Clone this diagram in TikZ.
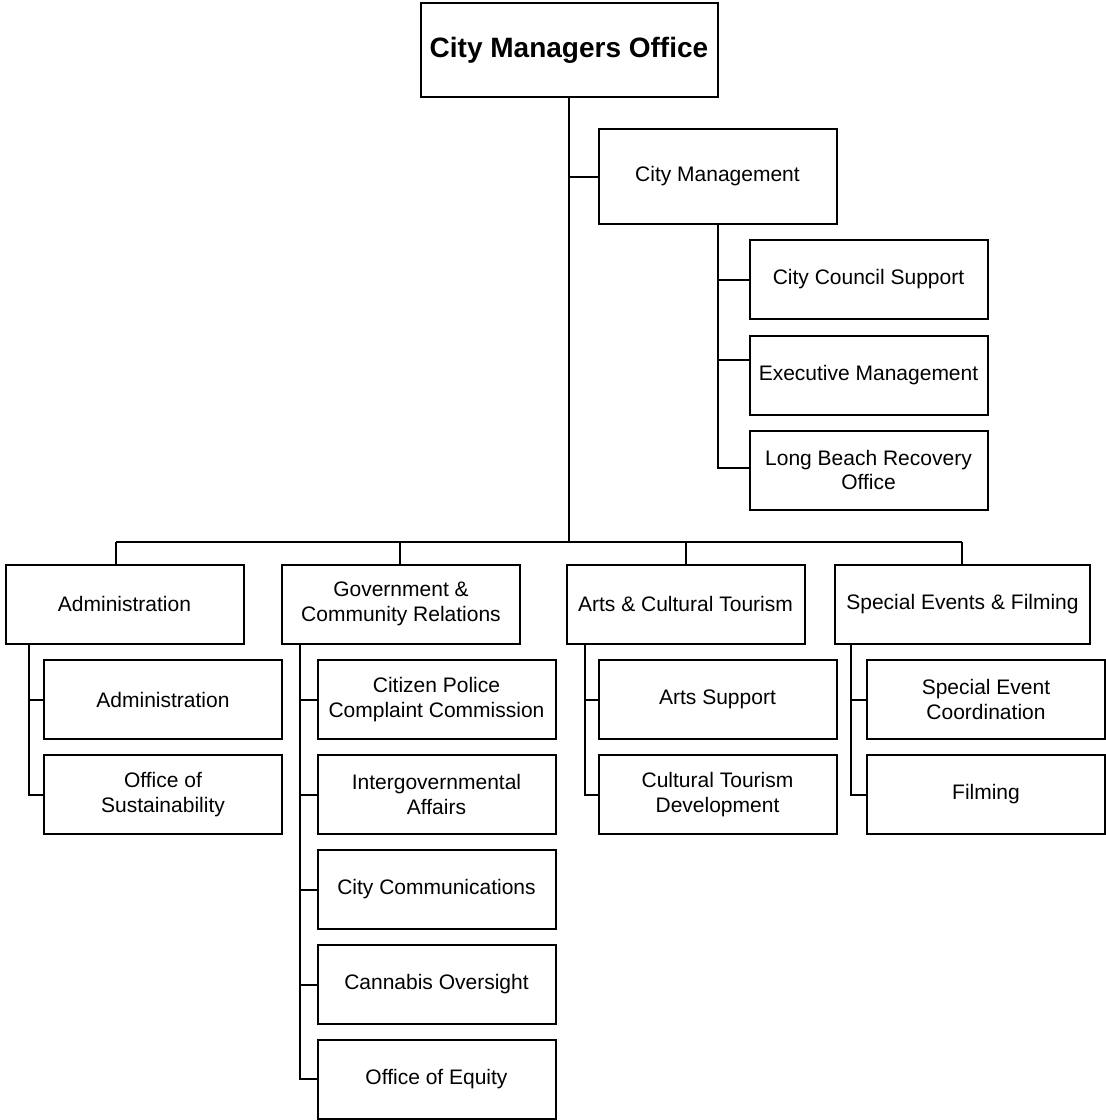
\documentclass[tikz,border=0pt]{standalone}
\usepackage{fontspec}
\setmainfont{Liberation Sans}
\begin{document}
\begin{tikzpicture}[x=1pt,y=-1pt]
        \tikzstyle{box}=[draw,line width=2pt,minimum width=238pt,minimum height=79pt,inner sep=2pt,align=center,font=\fontsize{21}{24.5}\selectfont]
        \tikzstyle{link}=[line width=2pt]
        \useasboundingbox (0,0) rectangle (1106,1120);
        % top of the chart
        \node[box,minimum width=297pt,minimum height=94pt,font=\bfseries\fontsize{28}{32}\selectfont] (cmo) at (569,50) {City Managers Office};
        \node[box,minimum height=95pt] (cm) at (717.5,176.5) {City Management};
        \node[box] (ccs) at (868.5,279.5) {City Council Support};
        \node[box] (exm) at (868.5,375) {Executive Management};
        \node[box] (lbr) at (868.5,470) {Long Beach Recovery\\Office};
        % second level
        \node[box] (adm) at (124.5,604) {Administration};
        \node[box] (gcr) at (401,604) {Government \&\\Community Relations};
        \node[box] (act) at (685.5,604) {Arts \& Cultural Tourism};
        \node[box,minimum width=255pt] (sef) at (962.5,604) {Special Events \& Filming};
        % third level
        \node[box] (adm1) at (163,699.5) {Administration};
        \node[box] (adm2) at (163,794.5) {Office of\\Sustainability};
        \node[box] (gcr1) at (436.5,699.5) {Citizen Police\\Complaint Commission};
        \node[box] (gcr2) at (436.5,794.5) {Intergovernmental\\Affairs};
        \node[box] (gcr3) at (436.5,889.5) {City Communications};
        \node[box] (gcr4) at (436.5,984.5) {Cannabis Oversight};
        \node[box] (gcr5) at (436.5,1079) {Office of Equity};
        \node[box] (act1) at (717.5,699.5) {Arts Support};
        \node[box] (act2) at (717.5,794.5) {Cultural Tourism\\Development};
        \node[box] (sef1) at (986,699.5) {Special Event\\Coordination};
        \node[box] (sef2) at (986,794.5) {Filming};
        % connectors
        \coordinate (bus) at (569,542);
        \coordinate (b1) at (116,542);
        \coordinate (b2) at (400,542);
        \coordinate (b3) at (686,542);
        \coordinate (b4) at (962,542);
        \draw[link] (cmo.south) -- (bus);
        \draw[link] (cm.west) -- (cm.west -| cmo.south);
        \draw[link] (b1) -- (b4);
        \draw[link] (b1) -- (b1 |- adm.north);
        \draw[link] (b2) -- (b2 |- gcr.north);
        \draw[link] (b3) -- (b3 |- act.north);
        \draw[link] (b4) -- (b4 |- sef.north);
        \draw[link] (cm.south) |- (ccs.west);
        \draw[link] (cm.south) |- ([yshift=15pt]exm.west);
        \draw[link] (cm.south) |- ([yshift=2pt]lbr.west);
        \coordinate (a0) at (29,644);
        \coordinate (g0) at (300,644);
        \coordinate (c0) at (585,644);
        \coordinate (s0) at (851,644);
        \foreach \n in {adm1,adm2} \draw[link] (a0) |- (\n.west);
        \foreach \n in {gcr1,gcr2,gcr3,gcr4,gcr5} \draw[link] (g0) |- (\n.west);
        \foreach \n in {act1,act2} \draw[link] (c0) |- (\n.west);
        \foreach \n in {sef1,sef2} \draw[link] (s0) |- (\n.west);
\end{tikzpicture}
\end{document}
